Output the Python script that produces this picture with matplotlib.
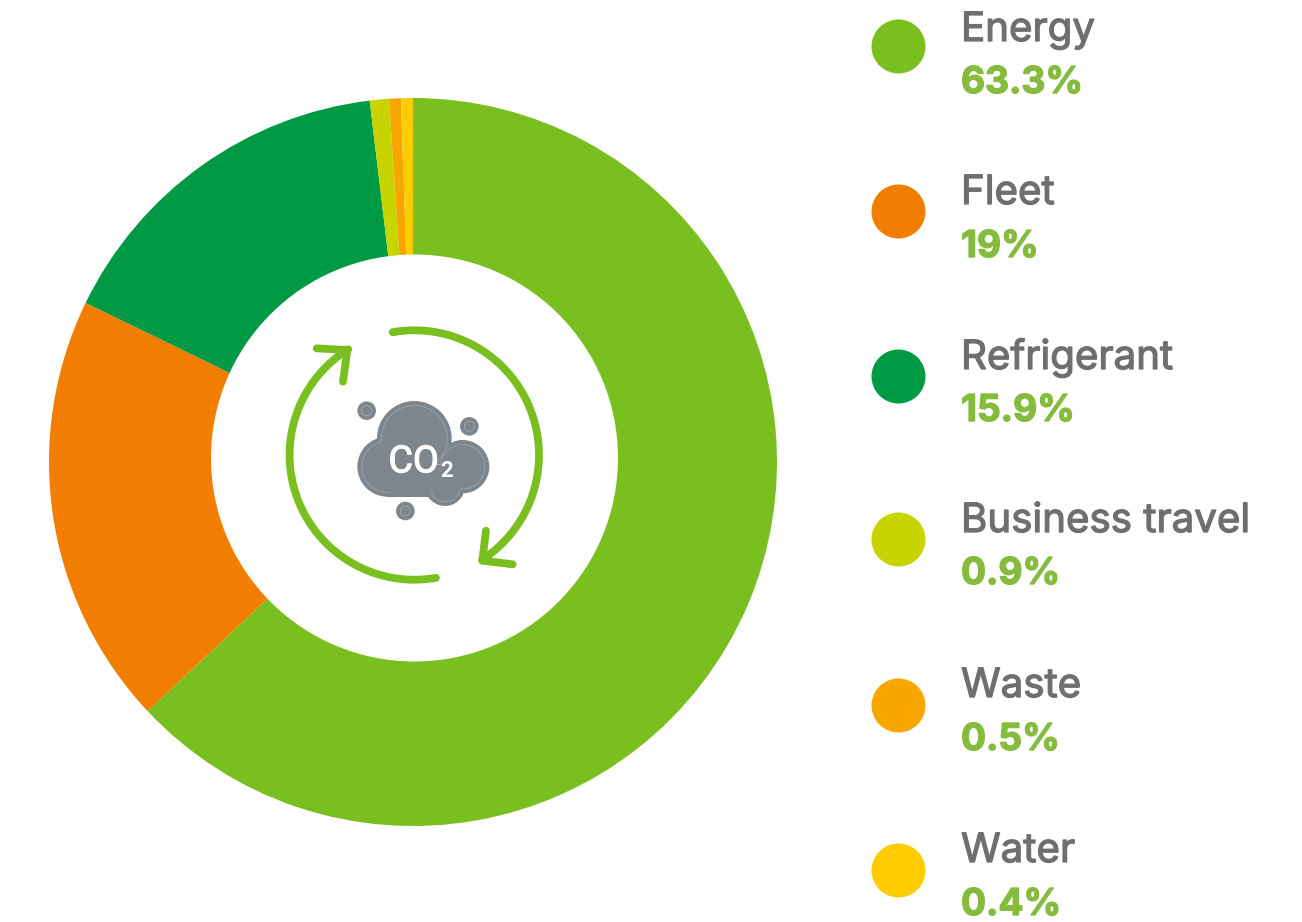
import numpy as np
import matplotlib
matplotlib.use("Agg")
import matplotlib.pyplot as plt
import matplotlib.patheffects as pe
from matplotlib.patches import Circle, Rectangle

categories = ["Energy", "Fleet", "Refrigerant", "Business travel", "Waste", "Water"]
# slice shares as measured on the ring, they differ a little from the printed labels
values = [63.0, 19.2, 15.9, 0.85, 0.52, 0.53]
value_labels = ["63.3%", "19%", "15.9%", "0.9%", "0.5%", "0.4%"]
colors = ["#7abf20", "#f27e00", "#009a44", "#c8d400", "#f7a600", "#ffcc00"]

W, H = 1302, 922
GREEN = "#7abf20"
GREY = "#7d868c"

# legend layout, pixels from the top
dot_y = [46, 211, 376, 539, 705, 870]
name_y = [41, 204, 369, 532, 697, 862]
value_y = [93, 257, 421, 584, 750, 915]


def fy(y):
    # picture y (down) to axes y (up)
    return H - y


def zoomed(zx, zy):
    # coordinates measured on the icon crop
    return 270 + zx / 3, fy(310 + zy / 3)


def draw_arc(ax, cx, cy, r, a0, a1):
    t = np.radians(np.linspace(a0, a1, 120))
    ax.plot(cx + r * np.cos(t), fy(cy) + r * np.sin(t), color=GREEN, lw=5.6,
            solid_capstyle="round", zorder=3)


def draw_cloud(ax, grow, color, z):
    lobes = [(433, 385, 112), (352, 470, 90), (578, 470, 80), (525, 528, 60)]
    for zx, zy, r in lobes:
        x, y = zoomed(zx, zy)
        ax.add_patch(Circle((x, y), r / 3 + grow, color=color, lw=0, zorder=z))
    x0, y0 = zoomed(352, 560)
    ax.add_patch(Rectangle((x0, y0 - grow), 173 / 3, 110 / 3 + 2 * grow, color=color, lw=0, zorder=z))


def draw_icon(ax):
    cx, cy, r = 414.3, 455, 124.7
    draw_arc(ax, cx, cy, r, 100, -57)
    draw_arc(ax, cx, cy, r, 280, 122)
    # arrow heads
    for tip, ends in [((232, 120), [(140, 115), (219, 215)]),
                      ((637, 752), [(728, 763), (648, 662)])]:
        for end in ends:
            xs, ys = zip(zoomed(*end), zoomed(*tip))
            ax.plot(xs, ys, color=GREEN, lw=5.6, solid_capstyle="round", zorder=3)

    # the thin line inside the cloud is the shape drawn again, slightly smaller
    draw_cloud(ax, 0, GREY, 4)
    draw_cloud(ax, -4.2, "#aeb4b8", 5)
    draw_cloud(ax, -4.7, GREY, 6)

    for zx, zy in [(290, 302), (598, 349), (406, 603)]:
        x, y = zoomed(zx, zy)
        ax.add_patch(Circle((x, y), 9.3, color=GREY, lw=0, zorder=4))
        ax.add_patch(Circle((x, y), 5, fc="none", ec="#a9afb3", lw=0.5, zorder=5))

    x, y = zoomed(431, 487)
    t = ax.text(x, y, "CO", color="white", fontsize=27, family=["Liberation Sans Narrow", "Roboto"],
                ha="center", va="baseline", zorder=7)
    t.set_path_effects([pe.withStroke(linewidth=0.8, foreground="white")])
    x, y = zoomed(531, 500)
    ax.text(x, y, "2", color="white", fontsize=16, family="Roboto", weight="bold",
            ha="center", va="baseline", zorder=7)


def main():
    fig = plt.figure(figsize=(W / 100, H / 100), dpi=100)
    ax = fig.add_axes([0, 0, 1, 1])

    ax.pie(values, colors=colors, startangle=90, counterclock=False,
           center=(413, fy(462)), radius=364, frame=True,
           wedgeprops={"linewidth": 0})

    ax.set_xlim(0, W)
    ax.set_ylim(0, H)
    ax.set_aspect("equal")
    ax.axis("off")

    # the hole sits a bit above the ring's centre
    ax.add_patch(Circle((414.5, fy(458)), 203.5, color="white", lw=0, zorder=2))

    draw_icon(ax)

    for i in range(len(categories)):
        ax.scatter([898], [fy(dot_y[i])], s=(54 * 0.72) ** 2, color=colors[i], linewidths=0)
        t = ax.text(961, fy(name_y[i]), categories[i], color="#6f6f6f", fontsize=29,
                    family="Inter", va="baseline")
        t.set_path_effects([pe.withStroke(linewidth=0.9, foreground="#6f6f6f")])
        t = ax.text(961, fy(value_y[i]), value_labels[i], color="#86bc3e", fontsize=26.7,
                    family="Inter", weight="bold", va="baseline")
        t.set_path_effects([pe.withStroke(linewidth=1.0, foreground="#86bc3e")])

    fig.savefig("out.png", dpi=100)


if __name__ == '__main__':
    main()
